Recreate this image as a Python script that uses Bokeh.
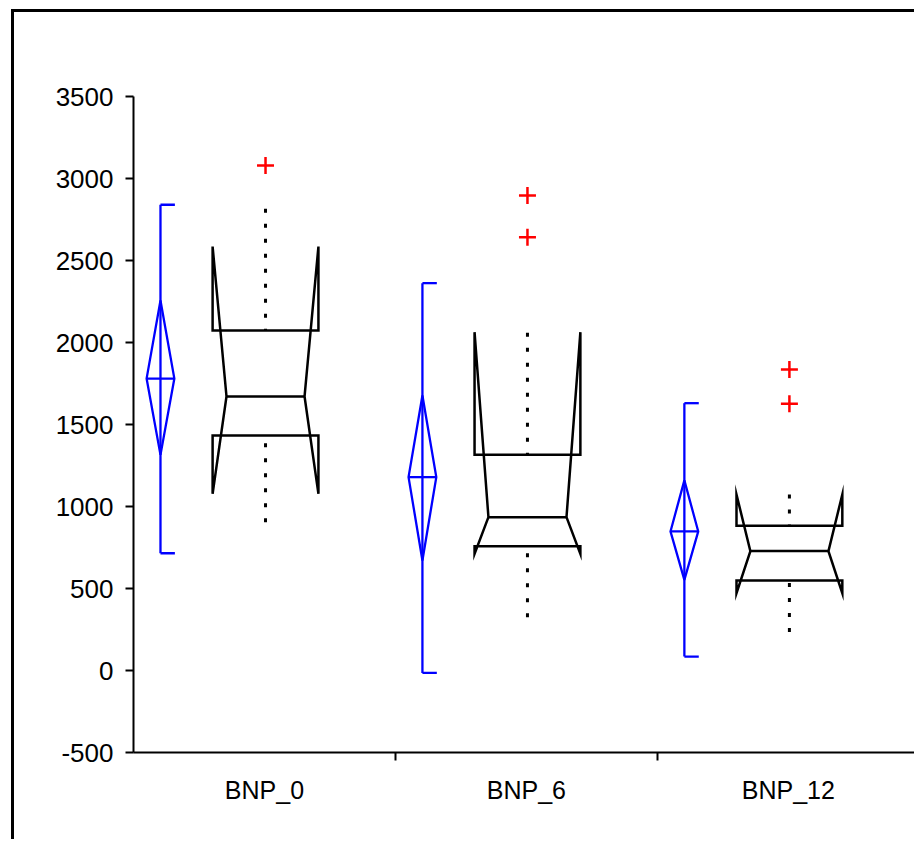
from bokeh.plotting import figure
from bokeh.models import Range1d, FixedTicker
from bokeh.embed import file_html
from bokeh.resources import INLINE

# ---- data ----
categories = ["BNP_0", "BNP_6", "BNP_12"]
y_ticks = [-500, 0, 500, 1000, 1500, 2000, 2500, 3000, 3500]

# blue mean / CI diamond and range bracket
range_low = [715, -15, 85]
range_high = [2840, 2362, 1630]
diamond_top = [2256, 1677, 1159]
diamond_mid = [1780, 1179, 848]
diamond_bot = [1315, 671, 553]

# notched box plot
q1 = [1433, 758, 549]
median = [1671, 935, 728]
q3 = [2073, 1315, 882]
notch_low = [1077, 711, 471]
notch_high = [2585, 2063, 1073]
whisker_low = [904, 325, 234]
whisker_high = [2815, 2060, 1073]

# outliers
outlier_group = [0, 1, 1, 2, 2]
outlier_value = [3079, 2896, 2642, 1835, 1626]

# ---- style constants (positions within a category, in category units) ----
BLUE_OFF = 0.103
BOX_OFF = 0.504
BOX_HW = 0.202
NOTCH_HW = 0.149
DIA_HW = 0.053
CAP_LEN = 0.055
BLUE = "#0000FF"
FONT = "Liberation Sans"

n = len(categories)

p = figure(width=903, height=830, output_backend="svg", toolbar_location=None,
           x_range=Range1d(0, 2.993), y_range=Range1d(-500, 3500),
           min_border_left=119, min_border_top=84, min_border_bottom=90,
           min_border_right=0)
p.styles = {"margin-left": "11px", "margin-top": "9px",
            "border-left": "3px solid black", "border-top": "3px solid black"}
p.xgrid.visible = False
p.ygrid.visible = False
p.outline_line_color = None
p.background_fill_color = "white"
p.border_fill_color = "white"

# --- blue range brackets + diamonds ---
bx = [i + BLUE_OFF for i in range(n)]
p.segment(x0=bx, y0=range_low, x1=bx, y1=range_high, line_color=BLUE, line_width=2.3)
p.segment(x0=bx, y0=range_high, x1=[x + CAP_LEN for x in bx], y1=range_high,
          line_color=BLUE, line_width=2.3)
p.segment(x0=bx, y0=range_low, x1=[x + CAP_LEN for x in bx], y1=range_low,
          line_color=BLUE, line_width=2.3)
dxs = [[x, x + DIA_HW, x, x - DIA_HW] for x in bx]
dys = [[t, m, b, m] for t, m, b in zip(diamond_top, diamond_mid, diamond_bot)]
p.patches(dxs, dys, fill_color=None, line_color=BLUE, line_width=2.3)
p.segment(x0=[x - DIA_HW for x in bx], y0=diamond_mid, x1=[x + DIA_HW for x in bx],
          y1=diamond_mid, line_color=BLUE, line_width=2.3)

# --- notched boxes ---
cx = [i + BOX_OFF for i in range(n)]
bxs, bys = [], []
for i, c in enumerate(cx):
    L, R = c - BOX_HW, c + BOX_HW
    nL, nR = c - NOTCH_HW, c + NOTCH_HW
    bxs.append([L, L, nL, L, L, R, R, nR, R, R])
    bys.append([q1[i], notch_low[i], median[i], notch_high[i], q3[i],
                q3[i], notch_high[i], median[i], notch_low[i], q1[i]])
p.patches(bxs, bys, fill_color=None, line_color="black", line_width=2.5,
          line_join="miter")
p.segment(x0=[c - NOTCH_HW for c in cx], y0=median, x1=[c + NOTCH_HW for c in cx],
          y1=median, line_color="black", line_width=2.5)

# whiskers (dotted)
p.segment(x0=cx, y0=whisker_high, x1=cx, y1=q3, line_color="black",
          line_width=3, line_dash="4 11")
p.segment(x0=cx, y0=whisker_low, x1=cx, y1=q1, line_color="black",
          line_width=3, line_dash="4 11")

# outliers
p.scatter(x=[g + BOX_OFF for g in outlier_group], y=outlier_value, marker="cross",
          size=17, line_color="red", line_width=2.5)

# --- axes ---
p.yaxis.ticker = FixedTicker(ticks=y_ticks)
p.yaxis.major_label_overrides = {t: str(t) for t in y_ticks}
p.yaxis.axis_line_width = 2
p.yaxis.major_tick_line_width = 2
p.yaxis.major_tick_out = 8
p.yaxis.major_tick_in = 0
p.yaxis.minor_tick_line_color = None
p.yaxis.major_label_text_font = FONT
p.yaxis.major_label_text_font_size = "26px"
p.yaxis.major_label_text_color = "black"
p.yaxis.major_label_standoff = 12

label_pos = [i + 0.5 for i in range(n)]
p.xaxis.ticker = FixedTicker(ticks=label_pos, minor_ticks=[i for i in range(1, n)])
p.xaxis.major_label_overrides = {pos: lab for pos, lab in zip(label_pos, categories)}
p.xaxis.axis_line_width = 2
p.xaxis.major_tick_out = 0
p.xaxis.major_tick_in = 0
p.xaxis.major_tick_line_color = None
p.xaxis.minor_tick_out = 8
p.xaxis.minor_tick_in = 0
p.xaxis.minor_tick_line_width = 2
p.xaxis.major_label_text_font = FONT
p.xaxis.major_label_text_font_size = "25px"
p.xaxis.major_label_text_color = "black"
p.xaxis.major_label_standoff = 15

open("out.html", "w").write(file_html(p, INLINE))
